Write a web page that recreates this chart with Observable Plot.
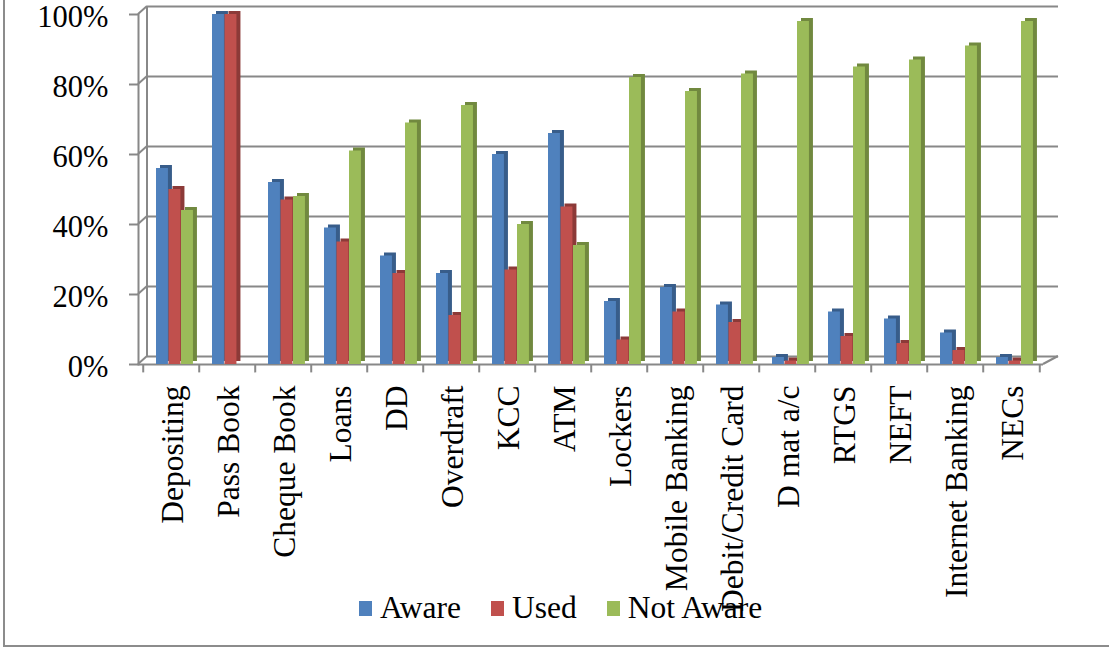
<!DOCTYPE html>
<html><head><meta charset="utf-8">
<script src="https://cdn.jsdelivr.net/npm/d3@7"></script>
<script src="https://cdn.jsdelivr.net/npm/@observablehq/plot@0.6"></script>
<style>
body{margin:0;background:#fff;}
#wrap{position:relative;width:1109px;height:648px;overflow:hidden;font-family:"Liberation Serif","Times New Roman",serif;}
#chart{position:absolute;left:0;top:0;}
#border{position:absolute;left:3px;top:-4px;width:1120px;height:651px;border-left:2px solid #8c8c8c;border-bottom:2px solid #8c8c8c;pointer-events:none;box-sizing:border-box;}
#legend{position:absolute;top:590px;left:359px;display:flex;align-items:center;font-size:31.5px;color:#000;white-space:nowrap;}
#legend .sw{display:inline-block;width:13px;height:15px;margin-right:8px;}
#legend .it{display:flex;align-items:center;margin-right:30px;}
</style></head><body>
<div id="wrap"><div id="chart"></div><div id="legend"></div><div id="border"></div></div>
<script>
const categories = ["Depositing","Pass Book","Cheque Book","Loans","DD","Overdraft","KCC","ATM","Lockers","Mobile Banking","Debit/Credit Card","D mat a/c","RTGS","NEFT","Internet Banking","NECs"];
const aware    = [56,100,52,39,31,26,60,66,18,22,17,2,15,13,9,2];
const used     = [50,100,47,35,26,14,27,45,7,15,12,1,8,6,4,1];
const notAware = [44,0,48,61,69,74,40,34,82,78,83,98,85,87,91,98];
const seriesNames = ["Aware","Used","Not Aware"];
const colors = ["#4F81BD","#C0504D","#9BBB59"];
const sideColors = ["#385D8A","#8C3A38","#71893F"];
const yTicks = [0,20,40,60,80,100];

const rows = categories.map((c,i)=>({category:c, "Aware":aware[i], "Used":used[i], "Not Aware":notAware[i]}));
const gray = "#888888";
const xStart = 138, xEnd = 1043;
const bw = (xEnd - xStart) / categories.length;
const barW = 12.5, barOff = 13;

const barMarks = [];
seriesNames.forEach((s,k)=>{
  const L = barOff + barW*k, R = bw - (barOff + barW*(k+1));
  barMarks.push(Plot.barY(rows.filter(d=>d[s]>0), {x:"category", y:s, fill:sideColors[k], insetLeft:L, insetRight:R, dx:4, dy:-3}));
  barMarks.push(Plot.barY(rows, {x:"category", y:s, fill:colors[k], insetLeft:L, insetRight:R}));
});

const chart = Plot.plot({
  width:1109, height:648,
  marginLeft:138, marginRight:51, marginTop:14, marginBottom:284,
  style:{fontFamily:'"Liberation Serif","Times New Roman",serif', background:"transparent", color:"#000"},
  x:{domain:categories, range:[xStart,xEnd], padding:0, label:null},
  y:{domain:[0,100], label:null},
  marks:[
    Plot.ruleY(yTicks, {stroke:gray, strokeWidth:2, dy:-8, insetLeft:9}),
    Plot.ruleY([0], {stroke:gray, strokeWidth:2, insetRight:15}),
    Plot.frame({anchor:"left", stroke:gray, strokeWidth:2}),
    Plot.ruleX(categories, {x:d=>d, y1:0, y2:-2.4, dx:-bw/2, stroke:gray, strokeWidth:2}),
    Plot.ruleX([categories[categories.length-1]], {x:d=>d, y1:0, y2:-2.4, dx:bw/2, stroke:gray, strokeWidth:2}),
    ...barMarks,
    Plot.axisY({ticks:yTicks, tickSize:9, text:null, stroke:gray, strokeWidth:2}),
    Plot.axisY({ticks:yTicks, tickSize:0, tickPadding:30, tickFormat:d=>d+"%", fontSize:30.5, fill:"#000", dy:3}),
    Plot.axisX({tickSize:0, tickRotate:-90, tickPadding:21, fontSize:31.5, fill:"#000", dx:1})
  ]
});
document.getElementById("chart").appendChild(chart);

// 3D wall edges computed from the chart's own scales
const ys = chart.scale("y");
const svg = d3.select(chart.tagName.toLowerCase()==="svg" ? chart : chart.querySelector("svg"));
const g = svg.append("g").attr("stroke", gray).attr("stroke-width", 2).attr("fill","none");
yTicks.forEach(v=>{
  const yy = ys.apply(v);
  g.append("line").attr("x1", xStart).attr("y1", yy).attr("x2", xStart+9).attr("y2", yy-8);
});
g.append("line").attr("x1", xStart+9).attr("y1", ys.apply(0)-8).attr("x2", xStart+9).attr("y2", ys.apply(100)-8);
g.append("line").attr("x1", xEnd).attr("y1", ys.apply(0)).attr("x2", xEnd+15).attr("y2", ys.apply(0)-8);

const legend = document.getElementById("legend");
seriesNames.forEach((s,k)=>{
  const it = document.createElement("span"); it.className="it";
  const sw = document.createElement("span"); sw.className="sw"; sw.style.background=colors[k];
  it.appendChild(sw); it.appendChild(document.createTextNode(s));
  legend.appendChild(it);
});
</script>
</body></html>
